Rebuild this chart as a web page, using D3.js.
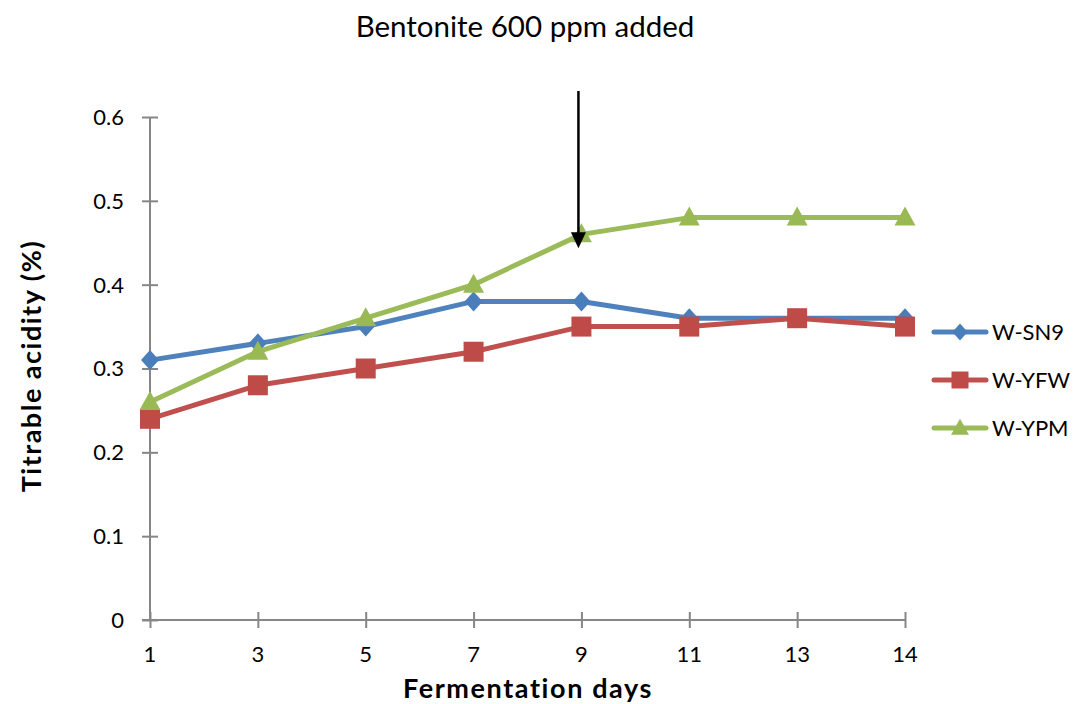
<!DOCTYPE html>
<html>
<head>
<meta charset="utf-8">
<script src="https://cdn.jsdelivr.net/npm/d3@7"></script>
<style>
  html, body { margin: 0; padding: 0; background: #fff; }
  svg { display: block; font-family: Lato, "Open Sans", sans-serif; }
</style>
</head>
<body>
<svg id="chart" width="1075" height="704"></svg>
<script>
// Fermentation day categories (evenly spaced category axis)
const days = ["1", "3", "5", "7", "9", "11", "13", "14"];

// Titrable acidity (%) per strain
const wSN9 = [0.31, 0.33, 0.35, 0.38, 0.38, 0.36, 0.36, 0.36];
const wYFW = [0.24, 0.28, 0.30, 0.32, 0.35, 0.35, 0.36, 0.35];
const wYPM = [0.26, 0.32, 0.36, 0.40, 0.46, 0.48, 0.48, 0.48];

const yTicks = [0, 0.1, 0.2, 0.3, 0.4, 0.5, 0.6];
const yTickLabels = ["0", "0.1", "0.2", "0.3", "0.4", "0.5", "0.6"];

const seriesNames = ["W-SN9", "W-YFW", "W-YPM"];
const annotationText = "Bentonite 600 ppm added";
const annotationDay = "9";

const series = [
  { name: seriesNames[0], values: wSN9, line: "#4F81BD", fill: "#4A7EBB", marker: "diamond" },
  { name: seriesNames[1], values: wYFW, line: "#C0504D", fill: "#BE4B48", marker: "square" },
  { name: seriesNames[2], values: wYPM, line: "#9BBB59", fill: "#98B954", marker: "triangle" }
];

const svg = d3.select("#chart");
const axisColor = "#868686";

const x = d3.scalePoint().domain(days).range([150, 905]).padding(0);
const y = d3.scaleLinear().domain([0, 0.6]).range([620, 117]);

// Y axis: line plus ticks crossing it
const yAxis = svg.append("g").attr("transform", "translate(150,0)")
  .call(d3.axisLeft(y).tickValues(yTicks).tickSize(0).tickFormat((d, i) => yTickLabels[i]));
yAxis.select(".domain").remove();
yAxis.selectAll("text").remove();
yAxis.append("line").attr("x1", 0).attr("x2", 0).attr("y1", y(0.6)).attr("y2", y(0))
  .attr("stroke", axisColor).attr("stroke-width", 2);
yAxis.selectAll(".tick line").attr("x1", -8).attr("x2", 8).attr("stroke", axisColor).attr("stroke-width", 2);
svg.append("g").selectAll("text").data(yTicks).join("text")
  .attr("x", 124).attr("y", d => y(d)).attr("dy", "0.36em")
  .attr("text-anchor", "end").attr("font-size", 22).attr("fill", "#000")
  .text((d, i) => yTickLabels[i]);

// X axis
const xAxis = svg.append("g").attr("transform", `translate(0,${y(0)})`)
  .call(d3.axisBottom(x).tickSize(0));
xAxis.select(".domain").remove();
xAxis.selectAll("text").remove();
xAxis.append("line").attr("x1", x(days[0]) - 8).attr("x2", x(days[days.length - 1])).attr("y1", 0).attr("y2", 0)
  .attr("stroke", axisColor).attr("stroke-width", 2);
xAxis.selectAll(".tick line").attr("y1", -8).attr("y2", 8).attr("stroke", axisColor).attr("stroke-width", 2);
svg.append("g").selectAll("text").data(days).join("text")
  .attr("x", d => x(d)).attr("y", y(0) + 42)
  .attr("text-anchor", "middle").attr("font-size", 22).attr("fill", "#000")
  .text(d => d);

// Axis titles
svg.append("text").attr("x", 528).attr("y", 698).attr("text-anchor", "middle")
  .attr("font-size", 27).attr("font-weight", "bold").attr("letter-spacing", 1.6)
  .text("Fermentation days");
svg.append("text").attr("transform", "translate(41,366) rotate(-90)").attr("text-anchor", "middle")
  .attr("font-size", 27).attr("font-weight", "bold").attr("letter-spacing", 1.5)
  .text("Titrable acidity (%)");

// Marker shapes
function markerPath(type, cx, cy, k = 1) {
  if (type === "diamond") {
    return `M${cx},${cy - 10 * k}L${cx + 9 * k},${cy}L${cx},${cy + 10 * k}L${cx - 9 * k},${cy}Z`;
  } else if (type === "square") {
    return `M${cx - 10 * k},${cy - 10 * k}h${20 * k}v${20 * k}h${-20 * k}Z`;
  } else {
    return `M${cx},${cy - 11 * k}L${cx + 10.5 * k},${cy + 8 * k}L${cx - 10.5 * k},${cy + 8 * k}Z`;
  }
}

const line = d3.line().x((d, i) => x(days[i])).y(d => y(d));

series.forEach(s => {
  const g = svg.append("g");
  g.append("path").datum(s.values).attr("d", line)
    .attr("fill", "none").attr("stroke", s.line).attr("stroke-width", 5)
    .attr("stroke-linejoin", "round").attr("stroke-linecap", "round");
  g.selectAll("path.m").data(s.values).join("path").attr("class", "m")
    .attr("d", (d, i) => markerPath(s.marker, x(days[i]), y(d)))
    .attr("fill", s.fill);
});

// Legend
const legend = svg.append("g");
series.forEach((s, i) => {
  const ly = 332 + i * 48;
  legend.append("line").attr("x1", 934).attr("x2", 986).attr("y1", ly).attr("y2", ly)
    .attr("stroke", s.line).attr("stroke-width", 5).attr("stroke-linecap", "round");
  legend.append("path").attr("d", markerPath(s.marker, 960, ly, 0.85)).attr("fill", s.fill);
  legend.append("text").attr("x", 992).attr("y", ly).attr("dy", "0.36em")
    .attr("font-size", 22).attr("fill", "#000").text(s.name);
});

// Annotation: bentonite addition arrow
const ax = x(annotationDay) - 3;
const tipY = y(wYPM[days.indexOf(annotationDay)]) + 14;
svg.append("line").attr("x1", ax).attr("x2", ax).attr("y1", 91).attr("y2", tipY - 12)
  .attr("stroke", "#000").attr("stroke-width", 2.5);
svg.append("path").attr("d", `M${ax - 7.5},${tipY - 16}L${ax + 7.5},${tipY - 16}L${ax},${tipY}Z`).attr("fill", "#000");
svg.append("text").attr("x", 525).attr("y", 37).attr("text-anchor", "middle")
  .attr("font-size", 29.5).attr("fill", "#000").text(annotationText);
</script>
</body>
</html>
